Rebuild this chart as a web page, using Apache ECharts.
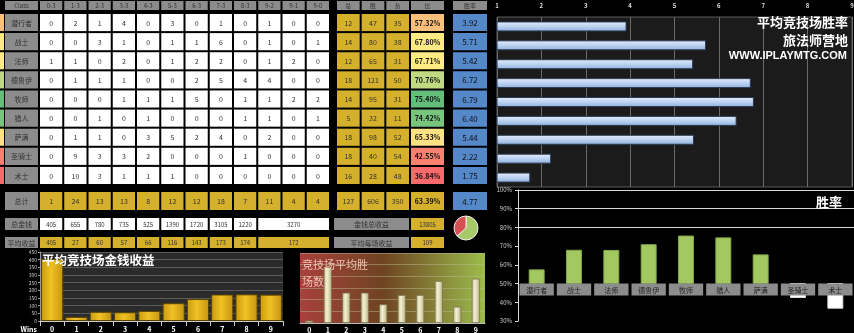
<!DOCTYPE html>
<html>
<head>
<meta charset="utf-8">
<script src="https://cdn.jsdelivr.net/npm/echarts@6/dist/echarts.min.js"></script>
<style>
html, body { margin: 0; padding: 0; background: #000; }
#main { width: 854px; height: 333px; }
</style>
</head>
<body>
<div id="main"></div>
<script>
// ---- arena results per class ----
const classes = ['潜行者', '战士', '法师', '德鲁伊', '牧师', '猎人', '萨满', '圣骑士', '术士'];
const records = ['0-3', '1-3', '2-3', '3-3', '4-3', '5-3', '6-3', '7-3', '8-3', '9-2', '9-1', '9-0'];
const recordCounts = [
  [0, 2, 1, 4, 0, 3, 0, 1, 0, 1, 0, 0],
  [0, 0, 3, 1, 0, 1, 1, 6, 0, 1, 0, 1],
  [1, 1, 0, 2, 0, 1, 2, 2, 0, 1, 2, 0],
  [0, 1, 1, 1, 0, 0, 2, 5, 4, 4, 0, 0],
  [0, 0, 0, 1, 1, 1, 5, 0, 1, 1, 2, 2],
  [0, 0, 1, 0, 1, 0, 0, 0, 1, 1, 0, 1],
  [0, 1, 1, 0, 3, 5, 2, 4, 0, 2, 0, 0],
  [0, 9, 3, 3, 2, 0, 0, 0, 1, 0, 0, 0],
  [0, 10, 3, 1, 1, 1, 0, 0, 0, 0, 0, 0]
];
const runs = [12, 14, 12, 18, 14, 5, 18, 18, 16];
const wins = [47, 80, 65, 121, 95, 32, 98, 40, 28];
const losses = [35, 38, 31, 50, 31, 11, 52, 54, 48];
const winRates = [57.32, 67.80, 67.71, 70.76, 75.40, 74.42, 65.33, 42.55, 36.84];
const avgWins = [3.92, 5.71, 5.42, 6.72, 6.79, 6.40, 5.44, 2.22, 1.75];

const recordTotals = [1, 24, 13, 13, 8, 12, 12, 18, 7, 11, 4, 4];
const totalRuns = 127, totalWins = 606, totalLosses = 350;
const totalRate = 63.39, totalAvgWins = 4.77;

// ---- gold per number of wins ----
const winBuckets = ['0', '1', '2', '3', '4', '5', '6', '7', '8', '9'];
const goldTotals = [405, 655, 780, 735, 525, 1390, 1720, 3105, 1220, 3270];
const goldAverages = [405, 27, 60, 57, 66, 116, 143, 173, 174, 172];
const runsByWins = [1, 24, 13, 13, 8, 12, 12, 18, 7, 19];
const goldGrandTotal = 13805, goldPerRun = 109;

const FONT = '"Noto Sans CJK SC", "DejaVu Sans", sans-serif';
const GRAY = '#8c8c8c', GOLD = '#d5b02c', BLUE = '#5588c9', WHITE = '#ffffff';

const grids = [], xAxes = [], yAxes = [], series = [];

function band(box, nCols, nRows) {
  const i = grids.length;
  grids.push({ left: box[0], top: box[1], width: box[2], height: box[3], outerBoundsMode: 'none', containLabel: false });
  xAxes.push({ gridIndex: i, type: 'category', data: Array.from({ length: nCols }, (_, k) => k), show: false });
  yAxes.push({ gridIndex: i, type: 'category', data: Array.from({ length: nRows }, (_, k) => k), inverse: true, show: false });
  return i;
}

function addCells(bi, items, opt) {
  opt = opt || {};
  const gx = opt.gx !== undefined ? opt.gx : 1;
  const gy = opt.gy !== undefined ? opt.gy : 1;
  const fs = opt.fontSize || 7;
  series.push({
    type: 'custom', xAxisIndex: bi, yAxisIndex: bi, silent: true, clip: false, z: 5,
    data: items.map(it => [it.c, it.r, it.span || 1]),
    renderItem(params, api) {
      const it = items[params.dataIndex];
      const span = api.value(2);
      const p = api.coord([api.value(0), api.value(1)]);
      const s = api.size([1, 1]);
      const x0 = p[0] - s[0] / 2, y0 = p[1] - s[1] / 2;
      const w = s[0] * span, h = s[1];
      const children = [{
        type: 'rect',
        shape: { x: x0 + gx, y: y0 + gy, width: w - 2 * gx, height: h - 2 * gy },
        style: { fill: it.fill, stroke: opt.stroke || null, lineWidth: 1 }
      }];
      if (it.text !== undefined && it.text !== '') {
        children.push({
          type: 'text',
          style: {
            text: String(it.text), x: x0 + w / 2, y: p[1] + 0.5,
            textAlign: 'center', textVerticalAlign: 'middle', align: 'center', verticalAlign: 'middle',
            fill: it.color || '#333', font: (it.bold ? 'bold ' : '') + fs + 'px ' + FONT
          }
        });
      }
      return { type: 'group', children };
    }
  });
}

// three-colour scale (red - yellow - green) for the win ratio cells
function mix(a, b, t) {
  const pa = [1, 3, 5].map(k => parseInt(a.substr(k, 2), 16));
  const pb = [1, 3, 5].map(k => parseInt(b.substr(k, 2), 16));
  return 'rgb(' + pa.map((v, k) => Math.round(v + (pb[k] - v) * t)).join(',') + ')';
}
function rateColor(v) {
  const sorted = winRates.slice().sort((a, b) => a - b);
  const lo = sorted[0], hi = sorted[sorted.length - 1], mid = sorted[Math.floor(sorted.length / 2)];
  if (v <= mid) return mix('#f8696b', '#ffeb84', (v - lo) / (mid - lo));
  return mix('#ffeb84', '#63be7b', (v - mid) / (hi - mid));
}

// ---- left table ----
addCells(band([4, 0, 35, 11], 1, 1), [{ c: 0, r: 0, text: 'Class', fill: GRAY }], { fontSize: 6 });
addCells(band([39, 0, 291, 11], records.length, 1), records.map((t, c) => ({ c, r: 0, text: t, fill: GRAY })), { fontSize: 6 });
addCells(band([0, 13, 4, 172], 1, classes.length), winRates.map((v, r) => ({ c: 0, r, fill: rateColor(v) })), { gx: 0 });
addCells(band([4, 13, 35, 172], 1, classes.length), classes.map((t, r) => ({ c: 0, r, text: t, fill: GRAY })));
const recItems = [];
recordCounts.forEach((row, r) => row.forEach((n, c) => recItems.push({ c, r, text: n, fill: WHITE })));
addCells(band([39, 13, 291, 172], records.length, classes.length), recItems);

addCells(band([4, 191, 35, 20], 1, 1), [{ c: 0, r: 0, text: '总计', fill: GRAY }]);
addCells(band([39, 191, 291, 20], records.length, 1), recordTotals.map((n, c) => ({ c, r: 0, text: n, fill: GOLD })));

// the gold rows group the 9-win records into one merged cell
const winsOfRecord = records.map(t => parseInt(t.split('-')[0], 10));
function bucketCells(values, fill) {
  return winBuckets.map((b, i) => {
    const w = parseInt(b, 10);
    const c = winsOfRecord.indexOf(w);
    const span = winsOfRecord.filter(x => x === w).length;
    return { c, r: 0, span, text: values[i], fill };
  });
}
addCells(band([4, 217, 35, 14], 1, 1), [{ c: 0, r: 0, text: '总金钱', fill: GRAY }]);
addCells(band([39, 217, 291, 14], records.length, 1), bucketCells(goldTotals, WHITE), { fontSize: 6 });
addCells(band([4, 236, 35, 13], 1, 1), [{ c: 0, r: 0, text: '平均收益', fill: GRAY }]);
addCells(band([39, 236, 291, 13], records.length, 1), bucketCells(goldAverages, GOLD), { fontSize: 6 });

// ---- right table ----
const sumHeads = ['总', '胜', '负'];
addCells(band([336, 0, 74, 11], 3, 1), sumHeads.map((t, c) => ({ c, r: 0, text: t, fill: GRAY })), { fontSize: 6 });
addCells(band([410, 0, 35, 11], 1, 1), [{ c: 0, r: 0, text: '比', fill: GRAY }], { fontSize: 6 });
addCells(band([452, 0, 36, 11], 1, 1), [{ c: 0, r: 0, text: '胜率', fill: GRAY }], { fontSize: 6 });

const sumItems = [];
classes.forEach((_, r) => [runs[r], wins[r], losses[r]].forEach((n, c) => sumItems.push({ c, r, text: n, fill: GOLD })));
addCells(band([336, 13, 74, 172], 3, classes.length), sumItems);
addCells(band([410, 13, 35, 172], 1, classes.length),
  winRates.map((v, r) => ({ c: 0, r, text: v.toFixed(2) + '%', fill: rateColor(v), color: '#111', bold: true })));
addCells(band([452, 13, 36, 172], 1, classes.length),
  avgWins.map((v, r) => ({ c: 0, r, text: v.toFixed(2), fill: BLUE, color: '#111' })), { fontSize: 8 });

addCells(band([336, 191, 74, 20], 3, 1), [totalRuns, totalWins, totalLosses].map((n, c) => ({ c, r: 0, text: n, fill: GOLD })));
addCells(band([410, 191, 35, 20], 1, 1), [{ c: 0, r: 0, text: totalRate.toFixed(2) + '%', fill: GOLD, color: '#111', bold: true }]);
addCells(band([452, 191, 36, 20], 1, 1), [{ c: 0, r: 0, text: totalAvgWins.toFixed(2), fill: BLUE, color: '#111' }], { fontSize: 8 });

addCells(band([333, 217, 77, 14], 1, 1), [{ c: 0, r: 0, text: '金钱总收益', fill: GRAY }]);
addCells(band([410, 217, 35, 14], 1, 1), [{ c: 0, r: 0, text: goldGrandTotal, fill: GOLD }], { fontSize: 6 });
addCells(band([333, 236, 77, 13], 1, 1), [{ c: 0, r: 0, text: '平均每场收益', fill: GRAY }]);
addCells(band([410, 236, 35, 13], 1, 1), [{ c: 0, r: 0, text: goldPerRun, fill: GOLD }], { fontSize: 6 });

// overall wins vs losses
series.push({
  type: 'pie', center: [466, 228], radius: 12, startAngle: 90, silent: true,
  label: { show: false }, labelLine: { show: false },
  itemStyle: { borderColor: '#eeeeee', borderWidth: 1 },
  data: [
    { name: '胜', value: totalWins, itemStyle: { color: '#a8c96a' } },
    { name: '负', value: totalLosses, itemStyle: { color: '#d65252' } }
  ]
});

// ---- average wins per class (horizontal bars) ----
const gAvg = grids.length;
grids.push({ left: 497, top: 17, width: 355, height: 170, show: true, backgroundColor: '#1b1b1b', borderColor: '#5a5a5a', borderWidth: 1, outerBoundsMode: 'none' });
xAxes.push({
  gridIndex: gAvg, type: 'value', min: 1, max: 9, interval: 1, position: 'top',
  axisLine: { show: false }, axisTick: { show: false },
  axisLabel: { fontSize: 6, color: '#dddddd', fontWeight: 'bold', margin: 8, fontFamily: FONT },
  splitLine: { show: true, lineStyle: { color: '#6a6a6a', width: 1 } }
});
yAxes.push({ gridIndex: gAvg, type: 'category', data: classes, inverse: true, show: false });
series.push({
  type: 'bar', xAxisIndex: gAvg, yAxisIndex: gAvg, data: avgWins, barWidth: 10, silent: true,
  itemStyle: {
    color: { type: 'linear', x: 0, y: 0, x2: 0, y2: 1, colorStops: [
      { offset: 0, color: '#e4eefb' }, { offset: 0.5, color: '#bcd2f0' }, { offset: 1, color: '#8eb0de' }] },
    borderColor: '#2c3a50', borderWidth: 1
  }
});

// ---- average gold per number of wins ----
const gGold = grids.length;
grids.push({ left: 40, top: 252, width: 243, height: 69, show: true, backgroundColor: '#2b2b2b', borderWidth: 0, outerBoundsMode: 'none' });
xAxes.push({
  gridIndex: gGold, type: 'category', data: winBuckets,
  axisLine: { lineStyle: { color: '#cccccc' } },
  axisTick: { show: true, alignWithLabel: false, lineStyle: { color: '#cccccc' } },
  axisLabel: { color: '#ffffff', fontSize: 7, fontWeight: 'bold', margin: 5, fontFamily: FONT },
  name: 'Wins', nameLocation: 'start', nameGap: 3,
  nameTextStyle: { color: '#ffffff', fontSize: 7, fontWeight: 'bold', verticalAlign: 'top', padding: [5, 0, 0, 0], fontFamily: FONT }
});
yAxes.push({
  gridIndex: gGold, type: 'value', min: 0, max: 450, interval: 50,
  axisLine: { show: true, lineStyle: { color: '#999999' } }, axisTick: { show: true, length: 2, lineStyle: { color: '#999999' } },
  axisLabel: { fontSize: 5, color: '#cccccc', margin: 3, fontFamily: FONT },
  splitLine: { lineStyle: { color: '#5c5c5c', width: 1 } }
});
series.push({
  type: 'bar', xAxisIndex: gGold, yAxisIndex: gGold, data: goldAverages, barCategoryGap: '9%', silent: true,
  itemStyle: {
    color: { type: 'linear', x: 0, y: 0, x2: 1, y2: 0, colorStops: [
      { offset: 0, color: '#c89a10' }, { offset: 0.45, color: '#f0c225' }, { offset: 1, color: '#c49410' }] },
    borderColor: '#5a4500', borderWidth: 1
  }
});

// ---- runs per number of wins ----
const gRuns = grids.length;
grids.push({
  left: 300, top: 253, width: 185, height: 70, show: true, borderWidth: 0, outerBoundsMode: 'none',
  backgroundColor: { type: 'linear', x: 0, y: 0, x2: 1, y2: 0, colorStops: [
    { offset: 0, color: '#a8403c' }, { offset: 0.45, color: '#6e4422' }, { offset: 1, color: '#9cbc4c' }] }
});
xAxes.push({
  gridIndex: gRuns, type: 'category', data: winBuckets,
  axisLine: { lineStyle: { color: '#bbbbbb' } }, axisTick: { show: false },
  axisLabel: { color: '#ffffff', fontSize: 7, fontWeight: 'bold', margin: 4, fontFamily: FONT }
});
yAxes.push({
  gridIndex: gRuns, type: 'value', min: 0, max: 30, interval: 5,
  axisLine: { show: false }, axisTick: { show: false }, axisLabel: { show: false },
  splitLine: { lineStyle: { color: 'rgba(190,190,150,0.45)', width: 1 } }
});
series.push({
  type: 'bar', xAxisIndex: gRuns, yAxisIndex: gRuns, data: runsByWins, barWidth: 8, silent: true,
  itemStyle: {
    color: { type: 'linear', x: 0, y: 0, x2: 1, y2: 0, colorStops: [
      { offset: 0, color: '#c9c197' }, { offset: 0.4, color: '#f3efd2' }, { offset: 1, color: '#bdb585' }] },
    borderColor: '#7d7650', borderWidth: 0.8
  }
});

// ---- win rate per class, bars hang from the 50% line ----
const rateBase = 0.5;
const gRate = grids.length;
grids.push({ left: 518, top: 190, width: 336, height: 131, show: false, outerBoundsMode: 'none' });
xAxes.push({ gridIndex: gRate, type: 'category', data: classes, show: false });
yAxes.push({
  gridIndex: gRate, type: 'value', min: 0.3, max: 1, interval: 0.1,
  axisLine: { show: true, lineStyle: { color: '#dddddd', width: 1 } },
  axisTick: { show: true, length: 3, inside: false, lineStyle: { color: '#dddddd' } },
  axisLabel: { fontSize: 6, color: '#cccccc', margin: 6, fontFamily: FONT, formatter: v => Math.round(v * 100) + '%' },
  splitLine: { show: false }
});
series.push({
  type: 'custom', xAxisIndex: gRate, yAxisIndex: gRate, silent: true, z: 3,
  data: winRates.map((v, i) => [i, v / 100]),
  renderItem(params, api) {
    const i = api.value(0), v = api.value(1);
    const b = api.coord([i, rateBase]), t = api.coord([i, v]);
    const bw = api.size([1, 0])[0] * 0.4;
    const up = v >= rateBase;
    return {
      type: 'rect',
      shape: { x: b[0] - bw / 2, y: Math.min(b[1], t[1]), width: bw, height: Math.abs(b[1] - t[1]) },
      style: { fill: up ? '#a4c860' : '#ffffff', stroke: up ? '#84a84a' : '#dddddd', lineWidth: 1 }
    };
  },
  markLine: {
    silent: true, symbol: 'none', label: { show: false },
    lineStyle: { color: '#d8d8d8', width: 1, type: 'solid' },
    data: [{ yAxis: 0.8 }, { yAxis: 0.9 }, { yAxis: 1.0 }]
  }
});
series.push({
  type: 'custom', xAxisIndex: gRate, yAxisIndex: gRate, silent: true, z: 6,
  data: classes.map((c, i) => [i, rateBase]),
  renderItem(params, api) {
    const i = api.value(0);
    const b = api.coord([i, api.value(1)]);
    const w = api.size([1, 0])[0] * 0.92;
    return {
      type: 'group', children: [
        { type: 'rect', shape: { x: b[0] - w / 2, y: b[1], width: w, height: 12 }, style: { fill: GRAY } },
        { type: 'text', style: { text: classes[params.dataIndex], x: b[0], y: b[1] + 6.5,
          textAlign: 'center', textVerticalAlign: 'middle', align: 'center', verticalAlign: 'middle',
          fill: '#222', font: '7px ' + FONT } }
      ]
    };
  }
});

const titleFont = 'bold 13px ' + FONT;
const option = {
  backgroundColor: '#000000',
  animation: false,
  grid: grids,
  xAxis: xAxes,
  yAxis: yAxes,
  series: series,
  graphic: [
    { type: 'text', right: 6, top: 16, z: 50, style: { text: '平均竞技场胜率', fill: '#ffffff', font: titleFont } },
    { type: 'text', right: 6, top: 34, z: 50, style: { text: '旅法师营地', fill: '#ffffff', font: titleFont } },
    { type: 'text', right: 7, top: 50, z: 50, style: { text: 'WWW.IPLAYMTG.COM', fill: '#ffffff', font: 'bold 11px "Liberation Sans", Arial, sans-serif' } },
    { type: 'text', left: 42, top: 254, z: 50, style: { text: '平均竞技场金钱收益', fill: '#ffffff', font: 'bold 12.5px ' + FONT } },
    { type: 'text', left: 302, top: 256, z: 50, style: { text: '竞技场平均胜\n场数', fill: 'rgba(255,214,200,0.85)', font: '11px ' + FONT, lineHeight: 17 } },
    { type: 'text', right: 12, top: 196, z: 50, style: { text: '胜率', fill: '#ffffff', font: titleFont } }
  ]
};

const chart = echarts.init(document.getElementById('main'), null, { renderer: 'canvas' });
chart.setOption(option);
</script>
</body>
</html>
